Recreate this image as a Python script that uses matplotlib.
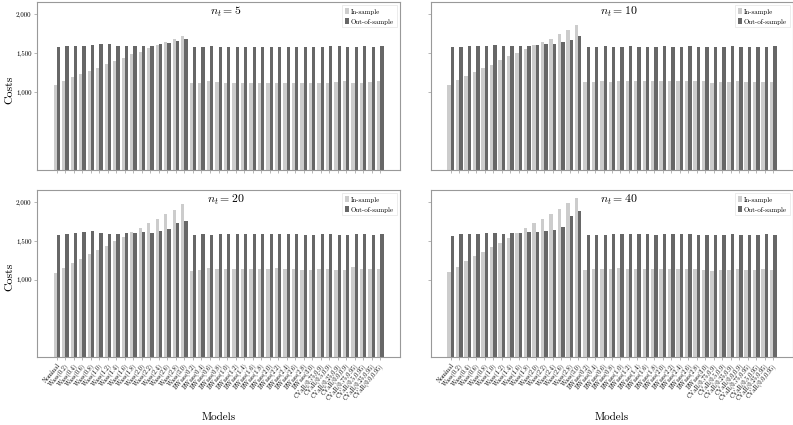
import numpy as np
from matplotlib import pyplot as plt
from matplotlib.ticker import FuncFormatter

# LaTeX-like look
plt.rcParams['font.family'] = 'serif'
plt.rcParams['font.serif'] = ['cmr10']
plt.rcParams['mathtext.fontset'] = 'cm'
plt.rcParams['axes.unicode_minus'] = False
plt.rcParams['axes.formatter.use_mathtext'] = True

# model names
radii = ["0.2", "0.4", "0.6", "0.8", "1.0", "1.2", "1.4", "1.6", "1.8", "2.0", "2.2", "2.4", "2.6", "2.8", "3.0"]
models = ["Nominal"] + ["Wass(" + r + ")" for r in radii] + ["BWass(" + r + ")" for r in radii] + [
    "CVaR(0.75,0.9)", "CVaR(0.5,0.9)", "CVaR(0.25,0.9)", "CVaR(0.0,0.9)",
    "CVaR(0.75,0.95)", "CVaR(0.5,0.95)", "CVaR(0.25,0.95)", "CVaR(0.0,0.95)"]

titles = ["$n_t = 5$", "$n_t = 10$", "$n_t = 20$", "$n_t = 40$"]

# n_t = 5
in_5 = [1094, 1149, 1196, 1235, 1277, 1312, 1367, 1406, 1440, 1491, 1517, 1568, 1603, 1645, 1684, 1722,
        1120, 1125, 1140, 1128, 1122, 1122, 1125, 1120, 1125, 1125, 1122, 1125, 1120, 1118, 1120,
        1118, 1120, 1130, 1138, 1125, 1120, 1132, 1138]
out_5 = [1577, 1590, 1594, 1597, 1603, 1622, 1615, 1597, 1597, 1600, 1594, 1600, 1625, 1628, 1658, 1684,
         1580, 1583, 1590, 1585, 1585, 1583, 1585, 1585, 1585, 1583, 1583, 1585, 1585, 1578, 1578,
         1580, 1590, 1588, 1578, 1578, 1590, 1585, 1588]
# n_t = 10
in_10 = [1094, 1160, 1210, 1260, 1310, 1350, 1410, 1460, 1510, 1560, 1610, 1650, 1690, 1745, 1805, 1870,
         1130, 1135, 1138, 1135, 1140, 1138, 1140, 1140, 1142, 1138, 1140, 1142, 1140, 1138, 1140,
         1125, 1130, 1132, 1138, 1135, 1130, 1128, 1135]
out_10 = [1580, 1585, 1595, 1600, 1600, 1605, 1600, 1600, 1600, 1600, 1605, 1615, 1625, 1640, 1670, 1720,
          1585, 1585, 1588, 1585, 1585, 1588, 1585, 1585, 1585, 1588, 1585, 1585, 1588, 1585, 1585,
          1580, 1583, 1588, 1585, 1585, 1583, 1585, 1588]
# n_t = 20
in_20 = [1086, 1151, 1216, 1264, 1329, 1381, 1442, 1502, 1554, 1615, 1671, 1732, 1788, 1845, 1901, 1979,
         1110, 1130, 1150, 1140, 1140, 1140, 1140, 1135, 1140, 1140, 1145, 1140, 1140, 1125, 1130,
         1140, 1140, 1120, 1130, 1160, 1140, 1135, 1138]
out_20 = [1572, 1589, 1598, 1611, 1624, 1602, 1594, 1594, 1598, 1607, 1611, 1607, 1624, 1650, 1728, 1758,
          1580, 1585, 1583, 1590, 1590, 1590, 1588, 1590, 1590, 1590, 1592, 1590, 1590, 1578, 1580,
          1585, 1592, 1578, 1583, 1588, 1590, 1582, 1586]
# n_t = 40
in_40 = [1094, 1170, 1240, 1300, 1360, 1420, 1480, 1540, 1600, 1670, 1730, 1790, 1850, 1920, 1990, 2060,
         1130, 1140, 1138, 1142, 1145, 1140, 1142, 1140, 1140, 1138, 1142, 1140, 1138, 1140, 1125,
         1115, 1120, 1130, 1140, 1128, 1130, 1135, 1130]
out_40 = [1570, 1585, 1590, 1595, 1600, 1600, 1595, 1600, 1610, 1620, 1620, 1630, 1640, 1680, 1820, 1890,
          1578, 1580, 1582, 1585, 1585, 1585, 1585, 1585, 1583, 1585, 1585, 1585, 1585, 1583, 1580,
          1578, 1580, 1585, 1583, 1580, 1583, 1585, 1583]

in_all = [in_5, in_10, in_20, in_40]
out_all = [out_5, out_10, out_20, out_40]

fig = plt.figure(figsize=(7.93, 4.25), dpi=100)
W, H = 793.0, 425.0
# axes boxes in pixels: left, top, width, height
boxes = [(37, 2, 363, 168), (431, 2, 362, 168), (37, 190, 363, 167), (431, 190, 362, 167)]

x = np.arange(len(models))
w = 0.4
for i in range(4):
    l, t, bw, bh = boxes[i]
    ax = fig.add_axes([l / W, 1 - (t + bh) / H, bw / W, bh / H])
    ax.bar(x - w / 2, in_all[i], w, color="#cccccc", label="In-sample")
    ax.bar(x + w / 2, out_all[i], w, color="#676767", label="Out-of-sample")
    ax.set_ylim(0, 2160)
    ax.set_yticks([1000, 1500, 2000])
    ax.yaxis.set_major_formatter(FuncFormatter(lambda v, p: "{:,.0f}".format(v)))
    ax.set_xticks(x)
    ax.tick_params(axis='both', length=2, width=0.5, color="#999999", labelsize=5, pad=2)
    for s in ax.spines.values():
        s.set_color("#999999")
        s.set_linewidth(0.8)
    if i % 2 == 1:
        ax.set_yticklabels([])
    else:
        ax.set_ylabel("Costs", fontsize=8.5, va="center")
        ax.yaxis.set_label_coords(-27.5 / bw, 0.48)
    if i < 2:
        ax.set_xticklabels([])
    else:
        ax.set_xticklabels(models, rotation=50, ha="right", rotation_mode="anchor", fontsize=4.5)
        # x label placed under the rotated names
        fig.text((l + bw / 2) / W, 1 - 417 / H, "Models", ha="center", va="center", fontsize=8)
    ax.text(0.52, 0.985, titles[i], transform=ax.transAxes, ha="center", va="top", fontsize=8.5)
    leg = ax.legend(loc="upper right", fontsize=5, handlelength=0.5, handleheight=1.0,
                    handletextpad=0.3, borderpad=0.4, borderaxespad=0.5, fancybox=False)
    leg.get_frame().set_edgecolor("#dddddd")
    leg.get_frame().set_linewidth(0.5)

plt.savefig("out.png", dpi=100)
plt.close()
